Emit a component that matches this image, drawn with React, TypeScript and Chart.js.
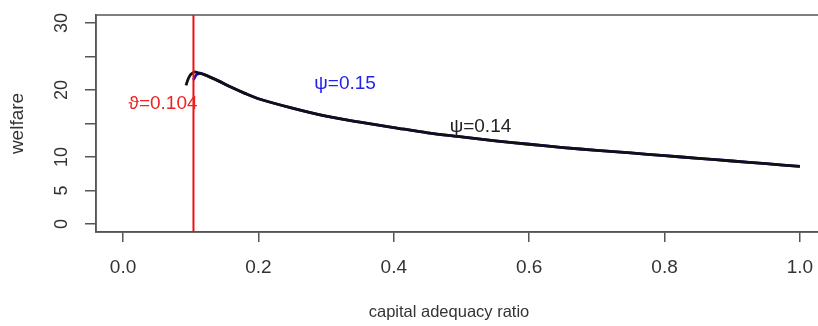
import React, { useEffect, useRef } from "react";
import { Chart, registerables } from "chart.js";

Chart.register(...registerables);

// capital adequacy ratio (x) and welfare (y) for psi = 0.14 (black)
const ratioPsi014 = [0.093, 0.096, 0.099, 0.102, 0.106, 0.11, 0.12, 0.14, 0.16, 0.18, 0.2, 0.25, 0.3, 0.35, 0.4, 0.45, 0.5, 0.55, 0.6, 0.65, 0.7, 0.75, 0.8, 0.85, 0.9, 0.95, 1.0];
const welfarePsi014 = [20.7, 21.6, 22.2, 22.5, 22.7, 22.6, 22.3, 21.4, 20.4, 19.5, 18.7, 17.3, 16.1, 15.2, 14.4, 13.6, 13.0, 12.4, 11.9, 11.4, 11.0, 10.6, 10.2, 9.8, 9.4, 9.0, 8.6];

// psi = 0.15 (blue)
const ratioPsi015 = [0.104, 0.107, 0.11, 0.115, 0.12, 0.14, 0.16, 0.18, 0.2, 0.25, 0.3, 0.35, 0.4, 0.45, 0.5, 0.55, 0.6, 0.65, 0.7, 0.75, 0.8, 0.85, 0.9, 0.95, 1.0];
const welfarePsi015 = [21.5, 22.1, 22.4, 22.5, 22.3, 21.4, 20.4, 19.5, 18.7, 17.3, 16.1, 15.2, 14.4, 13.6, 13.0, 12.4, 11.9, 11.4, 11.0, 10.6, 10.2, 9.8, 9.4, 9.0, 8.6];

const thresholdRatio = 0.104;

const xTicks = [0, 0.2, 0.4, 0.6, 0.8, 1.0];
const yTicks = [0, 5, 10, 15, 20, 25, 30];
const yTickLabels = ["0", "5", "10", "", "20", "", "30"];

const xTitle = "capital adequacy ratio";
const yTitle = "welfare";

const annotations = [
  { text: "\u03D1=0.104", x: 0.059, y: 17.9, color: "#ee2222" },
  { text: "\u03C8=0.15", x: 0.328, y: 20.9, color: "#2222ee" },
  { text: "\u03C8=0.14", x: 0.528, y: 14.5, color: "#222222" },
];

const FONT = "'Liberation Sans', Arial, sans-serif";

export default function App() {
  const ref = useRef<HTMLCanvasElement | null>(null);

  useEffect(() => {
    document.body.style.margin = "0";
    const canvas = ref.current!;
    const overlay = {
      id: "overlay",
      afterDraw(chart: any) {
        const { ctx, chartArea, scales } = chart;
        ctx.save();
        // plot box
        ctx.strokeStyle = "#555";
        ctx.lineWidth = 1.5;
        ctx.strokeRect(chartArea.left, chartArea.top, chartArea.right - chartArea.left, chartArea.bottom - chartArea.top);
        // y tick labels, rotated
        ctx.fillStyle = "#333";
        ctx.font = `18px ${FONT}`;
        ctx.textAlign = "center";
        ctx.textBaseline = "middle";
        yTicks.forEach((v, i) => {
          const lab = yTickLabels[i];
          if (!lab) return;
          const py = scales.y.getPixelForValue(v);
          ctx.save();
          ctx.translate(62, py);
          ctx.rotate(-Math.PI / 2);
          ctx.fillText(lab, 0, 0);
          ctx.restore();
        });
        // axis titles
        ctx.font = `16.5px ${FONT}`;
        ctx.fillText(xTitle, 449, 312);
        ctx.font = `19px ${FONT}`;
        ctx.save();
        ctx.translate(18, (chartArea.top + chartArea.bottom) / 2);
        ctx.rotate(-Math.PI / 2);
        ctx.fillText(yTitle, 0, 0);
        ctx.restore();
        // annotations
        ctx.font = `19px ${FONT}`;
        annotations.forEach((a) => {
          ctx.fillStyle = a.color;
          ctx.fillText(a.text, scales.x.getPixelForValue(a.x), scales.y.getPixelForValue(a.y));
        });
        ctx.restore();
      },
    };

    const chart = new Chart(canvas, {
      type: "line",
      data: {
        datasets: [
          {
            label: "threshold",
            data: [
              { x: thresholdRatio, y: -1.2 },
              { x: thresholdRatio, y: 31.2 },
            ],
            borderColor: "#ee1111",
            borderWidth: 2,
            pointRadius: 0,
          },
          {
            label: "psi=0.14",
            data: ratioPsi014.map((x, i) => ({ x, y: welfarePsi014[i] })),
            borderColor: "#111111",
            borderWidth: 2.8,
            pointRadius: 0,
            tension: 0.3,
          },
          {
            label: "psi=0.15",
            data: ratioPsi015.map((x, i) => ({ x, y: welfarePsi015[i] })),
            borderColor: "#1010cc",
            borderWidth: 2.8,
            pointRadius: 0,
            tension: 0.3,
          },
        ],
      },
      options: {
        animation: false,
        responsive: false,
        maintainAspectRatio: false,
        layout: { padding: { top: 15, right: 13, left: 0, bottom: 0 } },
        plugins: { legend: { display: false }, tooltip: { enabled: false } },
        scales: {
          x: {
            type: "linear",
            min: -0.04,
            max: 1.04,
            afterBuildTicks: (s: any) => {
              s.ticks = xTicks.map((v) => ({ value: v }));
            },
            afterFit: (s: any) => {
              s.height = 94;
            },
            ticks: {
              callback: (v: any) => Number(v).toFixed(1),
              color: "#333",
              font: { family: FONT, size: 19 },
              padding: 14,
              maxRotation: 0,
              minRotation: 0,
            },
            grid: {
              drawOnChartArea: false,
              drawTicks: true,
              tickLength: 10,
              color: "#555",
              lineWidth: 1.5,
            },
            border: { display: true, color: "#555", width: 1.5 },
          },
          y: {
            type: "linear",
            min: -1.2,
            max: 31.2,
            afterBuildTicks: (s: any) => {
              s.ticks = yTicks.map((v) => ({ value: v }));
            },
            afterFit: (s: any) => {
              s.width = 96;
            },
            ticks: {
              callback: () => "",
              font: { family: FONT, size: 16 },
              padding: 0,
            },
            grid: {
              drawOnChartArea: false,
              drawTicks: true,
              tickLength: 11,
              color: "#555",
              lineWidth: 1.5,
            },
            border: { display: true, color: "#555", width: 1.5 },
          },
        },
      },
      plugins: [overlay],
    });
    return () => chart.destroy();
  }, []);

  return (
    <div style={{ width: 818, height: 326, overflow: "hidden", position: "relative", background: "#fff" }}>
      <canvas ref={ref} width={840} height={326} style={{ display: "block", width: 840, height: 326 }} />
    </div>
  );
}
